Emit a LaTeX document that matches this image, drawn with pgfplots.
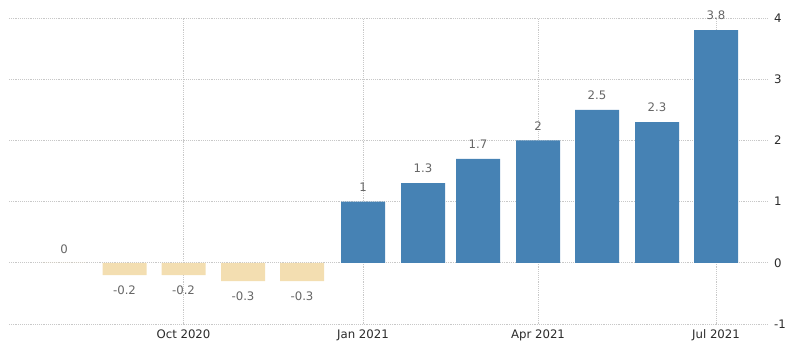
\documentclass[border=0pt]{standalone}
\usepackage{pgfplots}
\pgfplotsset{compat=1.18}
\usepackage{fontspec}
\setmainfont{DejaVu Sans}
\definecolor{barblue}{HTML}{4682B4}
\definecolor{barbeige}{HTML}{F3DEB1}
\definecolor{gridgray}{HTML}{C8C8C8}
\definecolor{valgray}{HTML}{666666}
\definecolor{tickdark}{HTML}{2A2A2A}
\begin{document}
\begin{tikzpicture}
\begin{axis}[
  name=ax,
  scale only axis,
  width=569.25pt, height=229.5pt,
  xmin=9, xmax=768,
  ymin=-1, ymax=4,
  axis line style={draw=none},
  major tick length=0pt,
  xtick={183.5,363,538,716},
  xticklabels={Oct 2020, Jan 2021, Apr 2021, Jul 2021},
  ytick={-1,0,1,2,3,4},
  yticklabels={-1,0,1,2,3,4},
  yticklabel pos=right,
  xmajorgrids, ymajorgrids,
  grid style={gridgray, densely dotted, line width=0.6pt},
  ticklabel style={font=\fontsize{8.8}{10}\selectfont, text=tickdark},
  yticklabel style={xshift=1pt},
  xticklabel style={yshift=-1pt},
  ybar, bar width=44,
  point meta=explicit symbolic,
  clip=false,
]
\addplot[fill=barbeige, draw=none, bar shift=0pt, nodes near coords,
  every node near coord/.append style={anchor=south, font=\fontsize{8.8}{10}\selectfont, text=valgray, inner sep=7pt}] table[meta=label] {
x y label
64 0 0
};
\addplot[fill=barbeige, draw=none, bar shift=0pt, nodes near coords,
  every node near coord/.append style={anchor=north, font=\fontsize{8.8}{10}\selectfont, text=valgray, inner sep=8pt}] table[meta=label] {
x y label
124.5 -0.2 -0.2
183.5 -0.2 -0.2
243 -0.3 -0.3
302 -0.3 -0.3
};
\addplot[fill=barblue, draw=none, bar shift=0pt, nodes near coords,
  every node near coord/.append style={anchor=south, font=\fontsize{8.8}{10}\selectfont, text=valgray, inner sep=7.5pt}] table[meta=label] {
x y label
363 1 1
423 1.3 1.3
478 1.7 1.7
538 2 2
597 2.5 2.5
657 2.3 2.3
716 3.8 3.8
};
\end{axis}
\pgfresetboundingbox
\path ([shift={(-6.75pt,-27pt)}]ax.south west) rectangle ([shift={(24pt,13.5pt)}]ax.north east);
\end{tikzpicture}
\end{document}
